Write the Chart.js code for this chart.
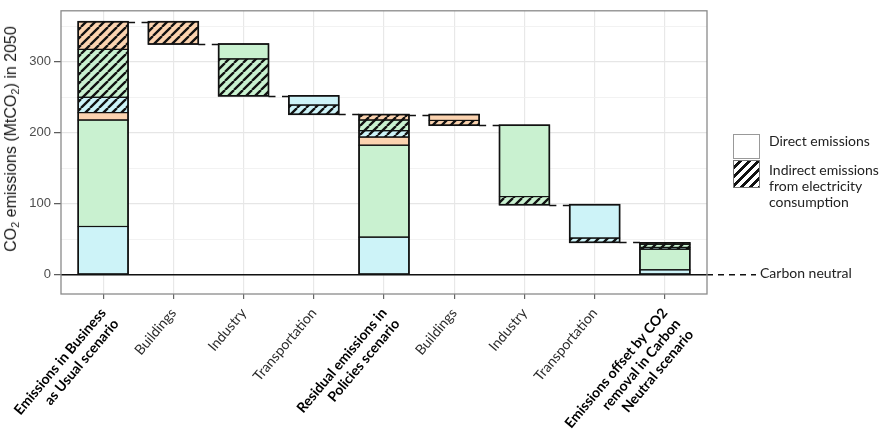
<!DOCTYPE html>
<html><head><meta charset="utf-8">
<script src="https://cdn.jsdelivr.net/npm/chart.js@4.4.1/dist/chart.umd.min.js"></script>
<style>
html,body{margin:0;padding:0;background:#fff;}
#wrap{position:relative;width:886px;height:433px;overflow:hidden;}
#c{position:absolute;left:0;top:0;}
.lg{position:absolute;font-family:Lato,'Open Sans',sans-serif;font-size:14px;color:#222;line-height:16px;white-space:nowrap;}
.sw{position:absolute;box-sizing:border-box;}
#ytitle{position:absolute;left:11px;top:139px;transform:translate(-50%,-50%) rotate(-90deg);font-family:'Liberation Sans',Arial,sans-serif;font-size:16px;color:#1a1a1a;white-space:nowrap;line-height:18px;}
#ytitle sub{font-size:11px;vertical-align:-3px;line-height:0;}
</style></head><body>
<div id="wrap">
<canvas id="c" width="886" height="433" style="width:886px;height:433px"></canvas>
<div id="ytitle">CO<sub>2</sub> emissions (MtCO<sub>2</sub>) in 2050</div>
<div class="sw" style="left:733px;top:134px;width:27px;height:25px;border:1px solid #999;background:#fff;"></div>
<div class="sw" style="left:733px;top:160px;width:27px;height:28px;border:1px solid #777;background:repeating-linear-gradient(135deg,#fff 0px,#fff 3.4px,#111 3.4px,#111 6.3px);"></div>
<div class="lg" style="left:769px;top:133px;">Direct emissions</div>
<div class="lg" style="left:769px;top:162px;">Indirect emissions<br>from electricity<br>consumption</div>
<div class="lg" style="left:760px;top:265px;">Carbon neutral</div>
</div>
<script>
// ---- data ----
const categories = [
  ["Emissions in Business","as Usual scenario"],
  "Buildings","Industry","Transportation",
  ["Residual emissions in","Policies scenario"],
  "Buildings","Industry","Transportation",
  ["Emissions offset by CO2","removal in Carbon","Neutral scenario"]
];
const boldLabels = [true,false,false,false,true,false,false,false,true];
const isTotal    = [true,false,false,false,true,false,false,false,true];
const transDirect   = [68, 0, 0, 13, 53, 0, 0, 47, 7];
const indDirect     = [150, 0, 21, 0, 129.5, 0, 100.5, 0, 29];
const buildDirect   = [10.5, 0, 0, 0, 11.5, 8.3, 0, 0, 0];
const transIndirect = [21.5, 0, 0, 13, 9, 0, 0, 6, 2.5];
const indIndirect   = [67.5, 0, 52, 0, 15, 0, 11.5, 0, 4.5];
const buildIndirect = [39, 31.4, 0, 0, 7.7, 6.7, 0, 0, 2];
const yMajorTicks = [0, 100, 200, 300];
const yMinorTicks = [50, 150, 250, 350];

// ---- styles ----
const BLUE = '#cdf3f8', GREEN = '#c9f1d0', ORANGE = '#fbd3b0';
function hatch(bg){
  const s = 9, cv = document.createElement('canvas');
  cv.width = s; cv.height = s;
  const g = cv.getContext('2d');
  g.fillStyle = bg; g.fillRect(0,0,s,s);
  g.strokeStyle = '#111'; g.lineWidth = 2.3;
  g.beginPath();
  for (const k of [-1,0,1]) { g.moveTo(k*s, s); g.lineTo(k*s + s, 0); }
  g.stroke();
  return g.createPattern(cv, 'repeat');
}
const series = {
  TD:{label:'Transportation direct', vals:transDirect, fill:BLUE},
  ID:{label:'Industry direct', vals:indDirect, fill:GREEN},
  BD:{label:'Buildings direct', vals:buildDirect, fill:ORANGE},
  TI:{label:'Transportation indirect', vals:transIndirect, fill:hatch(BLUE)},
  II:{label:'Industry indirect', vals:indIndirect, fill:hatch(GREEN)},
  BI:{label:'Buildings indirect', vals:buildIndirect, fill:hatch(ORANGE)}
};
const totalOrder = ['TD','ID','BD','TI','II','BI'];   // bottom -> top
const reduceOrder = ['BD','ID','TD','BI','II','TI'];  // top -> bottom
const ranges = {}; Object.keys(series).forEach(k => ranges[k] = []);
const ends = [];
let level = 0;
categories.forEach((c, i) => {
  if (isTotal[i]) {
    let b = 0;
    totalOrder.forEach(k => { const v = series[k].vals[i]; if (v > 0) { ranges[k].push({x:i, y:[b, b+v]}); b += v; } });
    level = b;
  } else {
    let t = level;
    reduceOrder.forEach(k => { const v = series[k].vals[i]; if (v > 0) { ranges[k].push({x:i, y:[t-v, t]}); t -= v; } });
    level = t;
  }
  ends.push(level);
});
const datasets = Object.keys(series).map(k => ({
  label: series[k].label, data: ranges[k], backgroundColor: series[k].fill,
  borderWidth: 0, grouped: false, categoryPercentage: 1, barPercentage: 0.71
}));

const overlay = {
  id: 'overlay',
  afterDatasetsDraw(chart) {
    const ctx = chart.ctx, xs = chart.scales.x, ys = chart.scales.y, ca = chart.chartArea;
    ctx.save();
    const boxes = {};
    let bw = 50;
    chart.data.datasets.forEach((ds, di) => {
      const meta = chart.getDatasetMeta(di);
      meta.data.forEach((el, j) => {
        const p = el.getProps(['x','y','base','width'], true);
        const top = Math.min(p.y, p.base), bot = Math.max(p.y, p.base);
        bw = p.width;
        ctx.strokeStyle = '#111'; ctx.lineWidth = 1.1;
        ctx.strokeRect(p.x - p.width/2, top, p.width, bot - top);
        const i = ds.data[j].x;
        if (!boxes[i]) boxes[i] = {x:p.x, w:p.width, top, bot};
        boxes[i].top = Math.min(boxes[i].top, top);
        boxes[i].bot = Math.max(boxes[i].bot, bot);
      });
    });
    Object.values(boxes).forEach(b => {
      ctx.strokeStyle = '#111'; ctx.lineWidth = 1.6;
      ctx.strokeRect(b.x - b.w/2, b.top, b.w, b.bot - b.top);
    });
    // connectors
    ctx.setLineDash([7, 6.5]); ctx.lineWidth = 1.5; ctx.strokeStyle = '#111';
    for (let i = 0; i < categories.length - 1; i++) {
      const y = Math.round(ys.getPixelForValue(ends[i])) + 0.5;
      ctx.beginPath();
      ctx.moveTo(xs.getPixelForValue(i) + bw/2, y);
      ctx.lineTo(xs.getPixelForValue(i+1) - bw/2, y);
      ctx.stroke();
    }
    // zero line
    const y0 = ys.getPixelForValue(0);
    ctx.setLineDash([]); ctx.lineWidth = 1.6;
    ctx.beginPath(); ctx.moveTo(ca.left, y0); ctx.lineTo(ca.right, y0); ctx.stroke();
    ctx.setLineDash([6, 5]); ctx.lineWidth = 1.4;
    ctx.beginPath(); ctx.moveTo(ca.right, y0); ctx.lineTo(ca.right + 49, y0); ctx.stroke();
    // panel border
    ctx.setLineDash([]); ctx.strokeStyle = '#8a8a8a'; ctx.lineWidth = 1.3;
    ctx.strokeRect(ca.left, ca.top, ca.right - ca.left, ca.bottom - ca.top);
    ctx.restore();
  }
};

new Chart(document.getElementById('c'), {
  type: 'bar',
  data: { datasets },
  plugins: [overlay],
  options: {
    responsive: false, animation: false,
    layout: { padding: { top: 4, right: 179, left: 0, bottom: 0 } },
    plugins: { legend: { display: false }, tooltip: { enabled: false } },
    scales: {
      x: {
        type: 'linear', min: -0.6, max: 8.6, offset: false,
        afterBuildTicks: s => { s.ticks = categories.map((c, i) => ({ value: i })); },
        afterFit: s => { s.height = 139; },
        border: { display: false },
        grid: { offset: false, color: '#e8e8e8', lineWidth: 1.2, tickLength: 5, tickColor: '#666', tickWidth: 1.2 },
        ticks: {
          autoSkip: false, minRotation: 50, maxRotation: 50, padding: 6,
          callback: v => categories[v],
          font: ctx => ({ family: 'Lato, "Open Sans", sans-serif', size: 14, weight: boldLabels[ctx.index] ? 'bold' : 'normal' }),
          color: ctx => boldLabels[ctx.index] ? '#000' : '#2b2b2b'
        }
      },
      y: {
        min: -27.1, max: 371.9,
        afterBuildTicks: s => { s.ticks = yMajorTicks.concat(yMinorTicks).sort((a,b)=>a-b).map(v => ({ value: v })); },
        afterFit: s => { s.width = 61; },
        border: { display: false },
        grid: {
          color: ctx => yMajorTicks.includes(ctx.tick && ctx.tick.value) ? '#e6e6e6' : '#efefef',
          lineWidth: ctx => yMajorTicks.includes(ctx.tick && ctx.tick.value) ? 1.3 : 0.8,
          tickLength: 7,
          tickColor: ctx => yMajorTicks.includes(ctx.tick && ctx.tick.value) ? '#555' : 'rgba(0,0,0,0)',
          tickWidth: 1.2
        },
        ticks: {
          padding: 3, color: '#4d4d4d',
          font: { family: '"Liberation Sans", Arial, sans-serif', size: 13 },
          callback: v => yMajorTicks.includes(v) ? String(v) : ''
        },
        title: { display: false }
      }
    }
  }
});
</script>
</body></html>
